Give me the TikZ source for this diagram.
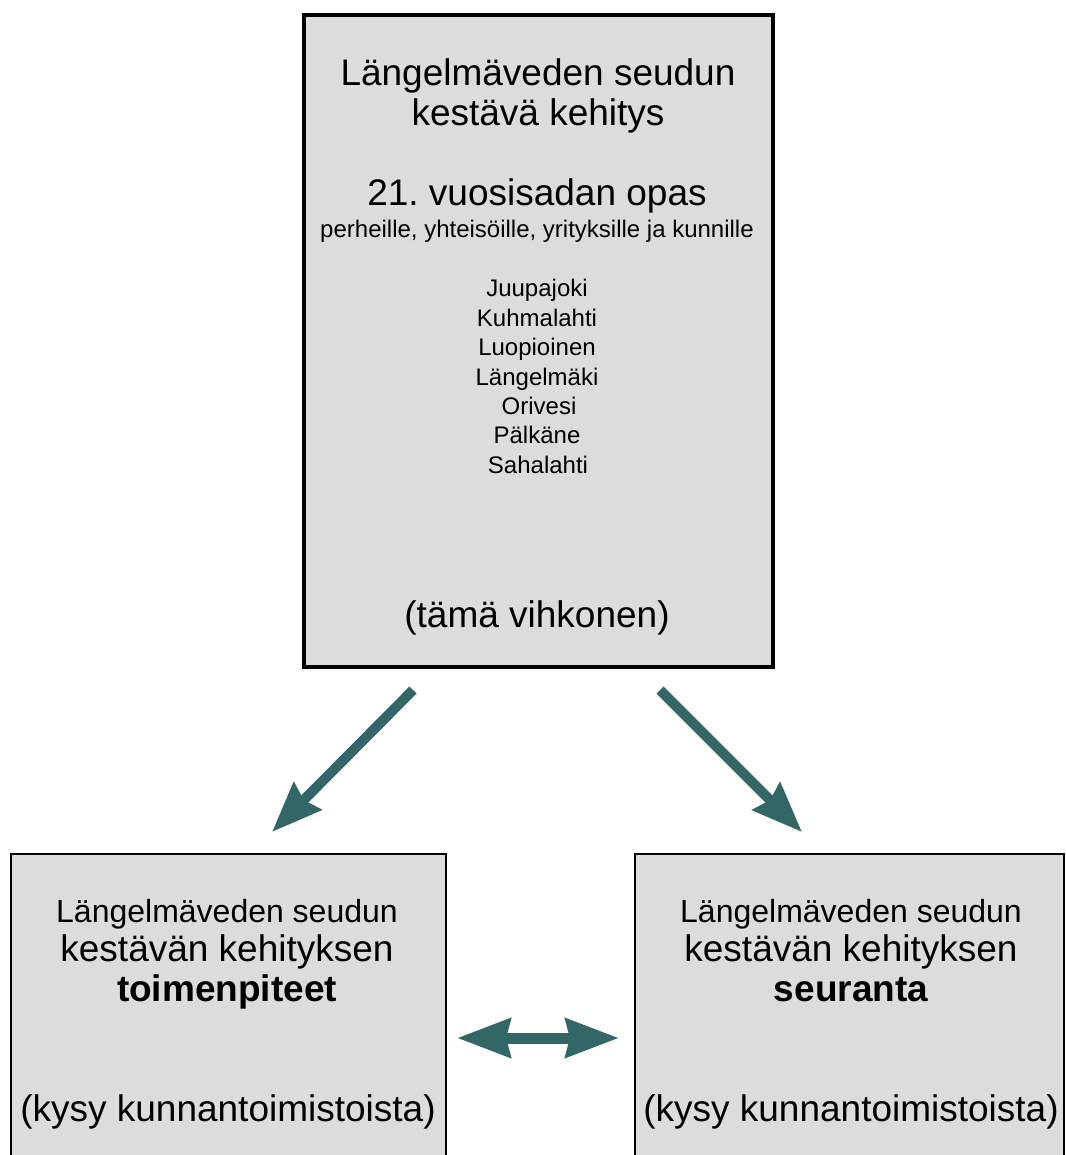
\documentclass[tikz,border=0pt]{standalone}
\usepackage{fontspec}
\setmainfont{Liberation Sans}
\usetikzlibrary{arrows.meta}
\definecolor{boxgray}{HTML}{DCDCDC}
\definecolor{teal}{HTML}{336666}
\tikzset{
  bigbox/.style={draw=black, fill=boxgray, line width=4pt},
  smallbox/.style={draw=black, fill=boxgray, line width=2pt},
  txt/.style={anchor=base, inner sep=0pt, align=center},
  bigtxt/.style={txt, font=\fontsize{37}{40}\selectfont},
  midtxt/.style={txt, font=\fontsize{32}{36}\selectfont},
  smalltxt/.style={txt, font=\fontsize{24}{28}\selectfont},
  diagarrow/.style={draw=teal, line width=10pt, -{Stealth[length=50pt, width=38pt, inset=5pt]}},
  dblarrow/.style={draw=teal, line width=11pt, {Stealth[length=53pt, width=38pt, inset=4pt]}-{Stealth[length=53pt, width=38pt, inset=4pt]}}
}
\begin{document}
\begin{tikzpicture}[x=1pt, y=-1pt]
\useasboundingbox (0,0) rectangle (1065,1155);
\fill[white] (0,0) rectangle (1065,1155);
% boxes
\node[bigbox, minimum width=469pt, minimum height=652pt, inner sep=0pt, anchor=north west] (top) at (302,13) {};
\node[smallbox, minimum width=435pt, minimum height=330pt, inner sep=0pt, anchor=north west] (left) at (9.5,853) {};
\node[smallbox, minimum width=429.5pt, minimum height=330pt, inner sep=0pt, anchor=north west] (right) at (633.5,853) {};
% top texts
\node[bigtxt] (t1) at (538,86) {Längelmäveden seudun};
\node[bigtxt] (t2) at (538,126) {kestävä kehitys};
\node[bigtxt] (t3) at (537,206) {21.\ vuosisadan opas};
\node[smalltxt] (t4) at (537,238) {perheille, yhteisöille, yrityksille ja kunnille};
\node[smalltxt] (c1) at (537,297) {Juupajoki};
\node[smalltxt] (c2) at (537,326) {Kuhmalahti};
\node[smalltxt] (c3) at (537,355) {Luopioinen};
\node[smalltxt] (c4) at (537,385) {Längelmäki};
\node[smalltxt] (c5) at (539,414) {Orivesi};
\node[smalltxt] (c6) at (537,443) {Pälkäne};
\node[smalltxt] (c7) at (538,473) {Sahalahti};
\node[bigtxt] (t5) at (537,627) {(tämä vihkonen)};
% left texts
\node[midtxt] (l1) at (227,922) {Längelmäveden seudun};
\node[bigtxt] (l2) at (227,961) {kestävän kehityksen};
\node[bigtxt, font=\fontsize{37}{40}\selectfont\bfseries] (l3) at (227,1001) {toimenpiteet};
\node[bigtxt] (l4) at (228,1121) {(kysy kunnantoimistoista)};
% right texts
\node[midtxt] (r1) at (851,922) {Längelmäveden seudun};
\node[bigtxt] (r2) at (851,961) {kestävän kehityksen};
\node[bigtxt, font=\fontsize{37}{40}\selectfont\bfseries] (r3) at (851,1001) {seuranta};
\node[bigtxt] (r4) at (851,1121) {(kysy kunnantoimistoista)};
% arrows
\coordinate (als) at (413,690);
\coordinate (ale) at (272,832);
\coordinate (ars) at (660,690);
\coordinate (are) at (802,832);
\coordinate (dl) at (457,1038);
\coordinate (dr) at (619,1038);
\draw[diagarrow] (als) -- (ale);
\draw[diagarrow] (ars) -- (are);
\draw[dblarrow] (dl) -- (dr);
\end{tikzpicture}
\end{document}
